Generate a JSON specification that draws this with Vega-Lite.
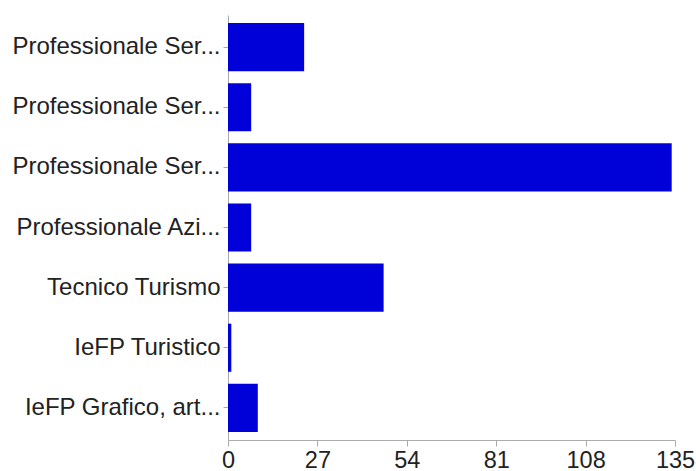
{
  "$schema": "https://vega.github.io/schema/vega-lite/v6.json",
  "autosize": {"type": "none"},
  "padding": {"left": 228, "top": 15, "right": 21, "bottom": 31},
  "width": 447,
  "height": 425,
  "background": "white",
  "data": {
    "values": [
      {"label": "Professionale Ser...#1", "count": 23},
      {"label": "Professionale Ser...#2", "count": 7},
      {"label": "Professionale Ser...#3", "count": 134},
      {"label": "Professionale Azi...#4", "count": 7},
      {"label": "Tecnico Turismo#5", "count": 47},
      {"label": "IeFP Turistico#6", "count": 1},
      {"label": "IeFP Grafico, art...#7", "count": 9}
    ]
  },
  "mark": {"type": "bar", "color": "#0000d8"},
  "encoding": {
    "y": {
      "field": "label",
      "type": "nominal",
      "sort": null,
      "scale": {"paddingInner": 0.2, "paddingOuter": 0.135},
      "axis": {
        "title": null,
        "labelExpr": "split(datum.label, '#')[0]",
        "labelFont": "Liberation Sans",
        "labelFontSize": 24,
        "labelColor": "#222222",
        "labelLimit": 300,
        "labelPadding": 3,
        "tickSize": 5,
        "tickColor": "#aaaaaa",
        "domainColor": "#aaaaaa",
        "grid": false
      }
    },
    "x": {
      "field": "count",
      "type": "quantitative",
      "scale": {"domain": [0, 135], "nice": false},
      "axis": {
        "title": null,
        "values": [0, 27, 54, 81, 108, 135],
        "labelFont": "Liberation Sans",
        "labelFontSize": 23.5,
        "labelColor": "#222222",
        "labelPadding": 2,
        "tickSize": 6,
        "tickColor": "#aaaaaa",
        "domainColor": "#aaaaaa",
        "grid": false,
        "labelFlush": false,
        "labelOverlap": false
      }
    }
  },
  "config": {"view": {"stroke": null}}
}
